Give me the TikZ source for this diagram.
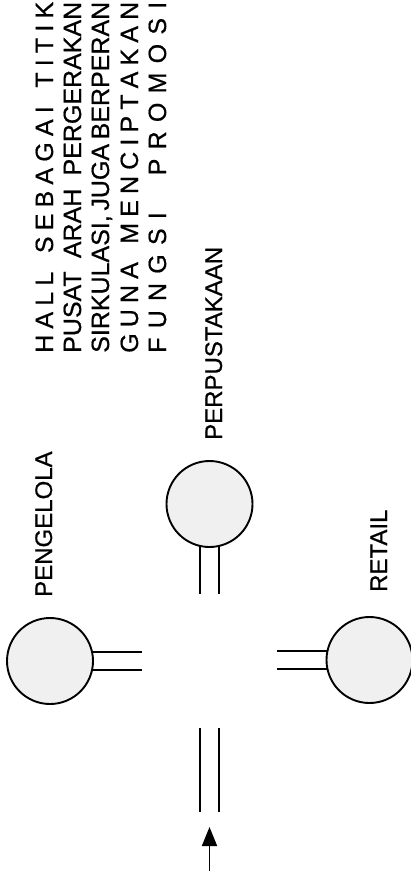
\documentclass[tikz,border=0pt]{standalone}
\usepackage{fontspec}
\setmainfont{Liberation Sans}
\newfontfamily\plakat[FakeBold=0.6]{Liberation Sans}
\usetikzlibrary{arrows.meta, backgrounds}

\begin{document}
\begin{tikzpicture}[x=1pt, y=-1pt,
    room/.style={circle, draw, line width=1.9pt, fill=black!6, minimum size=86pt, inner sep=0pt},
    stem/.style={double, line width=1.9pt, double distance=16.4pt},
    lbl/.style={rotate=90, anchor=base west, inner sep=0pt, font=\plakat\fontsize{24}{28}\selectfont},
    note/.style={lbl, font=\plakat\fontsize{25}{28}\selectfont},
    arr/.style={-{Triangle[length=19pt, width=15pt]}, line width=1.8pt}
  ]
  \useasboundingbox (0,0) rectangle (411,882);
  % rooms
  \node[room] (pengelola) at (50,661)    {};
  \node[room] (perpus)    at (209.5,504) {};
  \node[room] (retail)    at (369.5,660) {};
  \node[lbl] (pengelola-lbl) at (52,597)  {PENGELOLA};
  \node[lbl] (perpus-lbl)    at (222,440) {PERPUSTAKAAN};
  \node[lbl] (retail-lbl)    at (387,592) {RETAIL};
  % stems and entrance
  \coordinate (pengelola-end) at (142,661);
  \coordinate (perpus-end)    at (209.5,594);
  \coordinate (retail-end)    at (277,660);
  \coordinate (entry-top)     at (209.5,728);
  \coordinate (entry-bot)     at (209.5,812);
  \coordinate (arrow-tip)     at (209.5,827);
  \coordinate (arrow-tail)    at (209.5,871);
  \begin{scope}[on background layer]
    \draw[stem] (pengelola.center) -- (pengelola-end);
    \draw[stem] (perpus.center) -- (perpus-end);
    \draw[stem] (retail.center) -- (retail-end);
  \end{scope}
  \draw[stem] (entry-top) -- (entry-bot);
  \draw[arr] (arrow-tail) -- (arrow-tip);
  % hall description
  \node[note] (hall1) at (53,353)  {\makebox[351pt][s]{H\hfill A\hfill L\hfill L\hfill\hfill\hfill S\hfill E\hfill B\hfill A\hfill G\hfill A\hfill I\hfill\hfill\hfill T\hfill I\hfill T\hfill I\hfill K}};
  \node[note] (hall2) at (81,353)  {\makebox[351pt][s]{PUSAT ARAH PERGERAKAN}};
  \node[note] (hall3) at (109,353) {\makebox[351pt][s]{SIRKULASI, JUGA BERPERAN}};
  \node[note] (hall4) at (138,353) {\makebox[351pt][s]{G\hfill U\hfill N\hfill A\hfill\hfill\hfill M\hfill E\hfill N\hfill C\hfill I\hfill P\hfill T\hfill A\hfill K\hfill A\hfill N}};
  \node[note] (hall5) at (166,353) {\makebox[351pt][s]{F\hfill U\hfill N\hfill G\hfill S\hfill I\hfill\hfill\hfill\hfill P\hfill R\hfill O\hfill M\hfill O\hfill S\hfill I}};
\end{tikzpicture}
\end{document}
